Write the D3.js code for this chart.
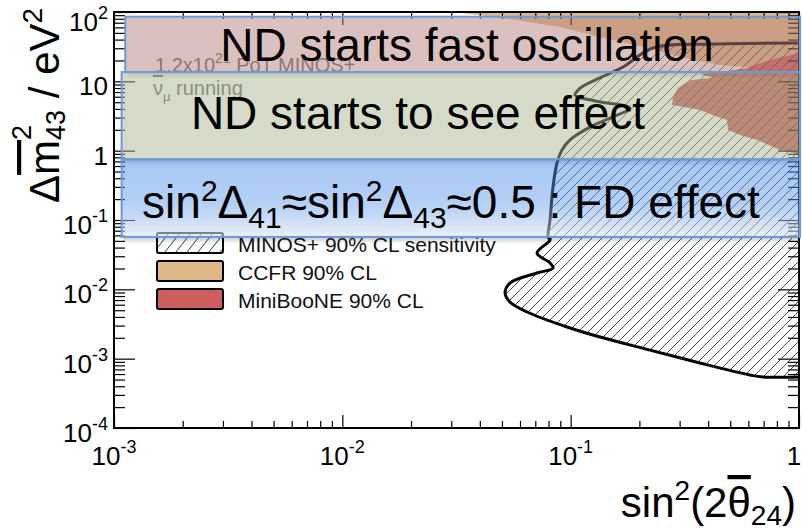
<!DOCTYPE html>
<html><head><meta charset="utf-8">
<script src="https://cdn.jsdelivr.net/npm/d3@7"></script>
<style>
body{margin:0;background:#fff}
svg{display:block;font-family:"Liberation Sans",Arial,Helvetica,sans-serif}
</style></head>
<body><svg id="c" width="802" height="532"></svg>
<script>
// ---------- data ----------
const xTickValues = [1e-3, 1e-2, 1e-1, 1];
const xTickBase = ["10", "10", "10", "1"];
const xTickExp = ["-3", "-2", "-1", ""];
const yTickValues = [1e-4, 1e-3, 1e-2, 1e-1, 1, 10, 100];
const yTickBase = ["10", "10", "10", "10", "1", "10", "10"];
const yTickExp = ["-4", "-3", "-2", "-1", "", "", "2"];

// MINOS+ 90% CL sensitivity contour (sin^2 2theta, dm^2)
const minosX = [1, 0.42, 0.229, 0.1695, 0.134, 0.110, 0.1045, 0.128, 0.182, 0.149, 0.1215, 0.0993, 0.0916, 0.0871, 0.0837, 0.0812, 0.0796, 0.0812, 0.0712, 0.0812, 0.0837, 0.0712, 0.0542, 0.0516, 0.0542, 0.0644, 0.0964, 0.1344, 0.2226, 0.368, 0.61, 0.696, 1];
const minosY = [35.7, 34.5, 30.3, 16.1, 11.2, 8.0, 6.35, 5.2, 4.12, 2.96, 2.19, 1.43, 1.02, 0.664, 0.30, 0.1, 0.057, 0.0515, 0.0334, 0.024, 0.0203, 0.0172, 0.0123, 0.00885, 0.00656, 0.00471, 0.00286, 0.00205, 0.00133, 0.000866, 0.000581, 0.000544, 0.000544];

// CCFR 90% CL excluded region
const ccfrX = [0.031, 0.058, 0.0897, 0.134, 0.2075, 0.30, 0.45, 0.675, 1, 1];
const ccfrY = [100, 76.7, 60.8, 43.6, 31.3, 22.4, 17.2, 15.6, 14.6, 100];

// MiniBooNE 90% CL region
const mbX = [1, 0.746, 0.58, 0.45, 0.368, 0.42, 0.333, 0.295, 0.28, 0.278, 0.333, 0.368, 0.4285, 0.484, 0.489, 0.552, 0.655, 0.826, 0.942, 1];
const mbY = [25.6, 20.3, 15.3, 13.6, 12.8, 11.3, 10.4, 8.0, 5.94, 4.56, 4.12, 3.86, 3.16, 2.77, 1.99, 1.68, 1.43, 1.02, 0.925, 0.865];

// annotation bands (dm^2 edges)
const bandTop = [85.5, 13.6, 0.75];
const bandBottom = [13.6, 0.75, 0.057];
const bandLeft = [0.00112, 0.00108, 0.00108];
const bandText = ["ND starts fast oscillation", "ND starts to see effect"];

const legendLabels = ["MINOS+ 90% CL sensitivity", "CCFR 90% CL", "MiniBooNE 90% CL"];

// ---------- drawing ----------
const svg = d3.select("#c");
const x = d3.scaleLog().domain([1e-3, 1]).range([114, 799]);
const y = d3.scaleLog().domain([1e-4, 1e2]).range([428, 12]);
const defs = svg.append("defs");

defs.append("clipPath").attr("id", "plotclip").append("rect")
  .attr("x", x(1e-3)).attr("y", y(1e2)).attr("width", x(1) - x(1e-3)).attr("height", y(1e-4) - y(1e2));

const hatch = defs.append("pattern").attr("id", "hatch").attr("patternUnits", "userSpaceOnUse")
  .attr("width", 10).attr("height", 10);
hatch.append("path").attr("d", "M-2,2 L2,-2 M0,10 L10,0 M8,12 L12,8")
  .attr("stroke", "#333").attr("stroke-width", 0.9);
const hatch2 = defs.append("pattern").attr("id", "hatch2").attr("patternUnits", "userSpaceOnUse")
  .attr("width", 11).attr("height", 14);
hatch2.append("path").attr("d", "M-3,4 L3,-4 M0,14 L11,0 M8,18 L14,10")
  .attr("stroke", "#222").attr("stroke-width", 0.9);

const blueGrad = defs.append("linearGradient").attr("id", "blueg").attr("x1", 0).attr("x2", 0).attr("y1", 0).attr("y2", 1);
blueGrad.append("stop").attr("offset", "0%").attr("stop-color", "rgb(80,146,234)").attr("stop-opacity", 0.5);
blueGrad.append("stop").attr("offset", "55%").attr("stop-color", "rgb(90,152,234)").attr("stop-opacity", 0.46);
blueGrad.append("stop").attr("offset", "100%").attr("stop-color", "rgb(225,230,242)").attr("stop-opacity", 0.6);

const shGrad = defs.append("linearGradient").attr("id", "shadow").attr("x1", 0).attr("x2", 0).attr("y1", 0).attr("y2", 1);
shGrad.append("stop").attr("offset", "0%").attr("stop-color", "#000").attr("stop-opacity", 0.22);
shGrad.append("stop").attr("offset", "100%").attr("stop-color", "#000").attr("stop-opacity", 0);

const plot = svg.append("g").attr("clip-path", "url(#plotclip)");
const area = d3.line().x(d => x(d[0])).y(d => y(d[1]));

plot.append("path").datum(d3.zip(ccfrX, ccfrY))
  .attr("d", d => area(d) + "Z").attr("fill", "#deb887");
plot.append("path").datum(d3.zip(mbX, mbY))
  .attr("d", d => area(d) + "Z").attr("fill", "#cd5c5c");

const minosPts = d3.zip(minosX, minosY);
const contour = d3.line().x(d => x(d[0])).y(d => y(d[1])).curve(d3.curveCatmullRom.alpha(0.5));
plot.append("path").datum(minosPts).attr("d", d => contour(d) + "Z").attr("fill", "url(#hatch)");
plot.append("path").datum(minosPts).attr("d", contour).attr("fill", "none")
  .attr("stroke", "#000").attr("stroke-width", 3).attr("stroke-linejoin", "round");

// gray annotation text
const pot = svg.append("text").attr("x", 155).attr("y", 72).attr("font-size", 20).attr("fill", "#666");
pot.append("tspan").text("1.2x10");
pot.append("tspan").attr("dy", -9).attr("font-size", 14).text("21");
pot.append("tspan").attr("dy", 9).text(" PoT MINOS+");
const run = svg.append("text").attr("x", 153).attr("y", 95).attr("font-size", 20).attr("fill", "#666");
run.append("tspan").attr("text-decoration", "overline").text("\u03BD");
run.append("tspan").attr("dy", 6).attr("font-size", 13).text("\u03BC");
run.append("tspan").attr("dy", -6).text(" running");

// legend
const legFill = ["url(#hatch2)", "#deb887", "#cd5c5c"];
const legY = [233, 261, 289];
legendLabels.forEach((t, i) => {
  svg.append("rect").attr("x", 157).attr("y", legY[i]).attr("width", 66).attr("height", 20).attr("rx", 2)
    .attr("fill", legFill[i]).attr("stroke", "#000").attr("stroke-width", 2);
  svg.append("text").attr("x", 238).attr("y", legY[i] + 19).attr("font-size", 21).attr("fill", "#111").text(t);
});

// frame and ticks
const decadesX = [1e-3, 1e-2, 1e-1];
const minorX = [];
decadesX.forEach(d => { for (let k = 2; k <= 9; k++) minorX.push(d * k); });
const decadesY = [1e-4, 1e-3, 1e-2, 1e-1, 1, 10];
const minorY = [];
decadesY.forEach(d => { for (let k = 2; k <= 9; k++) minorY.push(d * k); });

function drawAxis(axis, tr) {
  const g = svg.append("g").attr("transform", tr).call(axis);
  g.select(".domain").remove();
  g.selectAll("text").remove();
  g.selectAll("line").attr("stroke", "#000").attr("stroke-width", 1.2);
}
drawAxis(d3.axisBottom(x).tickValues(xTickValues).tickSize(-13), `translate(0,${y(1e-4)})`);
drawAxis(d3.axisBottom(x).tickValues(minorX).tickSize(-7), `translate(0,${y(1e-4)})`);
drawAxis(d3.axisTop(x).tickValues(xTickValues).tickSize(-13), `translate(0,${y(1e2)})`);
drawAxis(d3.axisTop(x).tickValues(minorX).tickSize(-7), `translate(0,${y(1e2)})`);
drawAxis(d3.axisLeft(y).tickValues(yTickValues).tickSize(-21), `translate(${x(1e-3)},0)`);
drawAxis(d3.axisLeft(y).tickValues(minorY).tickSize(-11), `translate(${x(1e-3)},0)`);
drawAxis(d3.axisRight(y).tickValues(yTickValues).tickSize(-21), `translate(${x(1)},0)`);
drawAxis(d3.axisRight(y).tickValues(minorY).tickSize(-11), `translate(${x(1)},0)`);

svg.append("rect").attr("x", x(1e-3)).attr("y", y(1e2)).attr("width", x(1) - x(1e-3)).attr("height", y(1e-4) - y(1e2))
  .attr("fill", "none").attr("stroke", "#000").attr("stroke-width", 2);

// bands
const bandFill = ["rgba(182,132,128,0.5)", "rgba(171,183,145,0.5)", "url(#blueg)"];
[0, 1, 2].forEach(i => {
  const x0 = x(bandLeft[i]), x1 = x(1) + 1, y0 = y(bandTop[i]), y1 = y(bandBottom[i]);
  svg.append("rect").attr("x", x0 + 2).attr("y", y1).attr("width", x1 - x0 - 2).attr("height", 7).attr("fill", "url(#shadow)");
  svg.append("rect").attr("x", x0).attr("y", y0).attr("width", x1 - x0).attr("height", y1 - y0)
    .attr("fill", bandFill[i]).attr("stroke", "#6a9ad8").attr("stroke-width", 2);
});
svg.append("text").attr("x", 467).attr("y", 61).attr("text-anchor", "middle").attr("font-size", 46).attr("fill", "#000").text(bandText[0]);
svg.append("text").attr("x", 418).attr("y", 129).attr("text-anchor", "middle").attr("font-size", 46).attr("fill", "#000").text(bandText[1]);
const fd = svg.append("text").attr("x", 451).attr("y", 218).attr("text-anchor", "middle").attr("font-size", 46).attr("fill", "#000");
fd.append("tspan").text("sin");
fd.append("tspan").attr("dy", -17).attr("font-size", 30).text("2");
fd.append("tspan").attr("dy", 17).text("\u0394");
fd.append("tspan").attr("dy", 10).attr("font-size", 30).text("41");
fd.append("tspan").attr("dy", -10).text("\u2248sin");
fd.append("tspan").attr("dy", -17).attr("font-size", 30).text("2");
fd.append("tspan").attr("dy", 17).text("\u0394");
fd.append("tspan").attr("dy", 10).attr("font-size", 30).text("43");
fd.append("tspan").attr("dy", -10).text("\u22480.5 : FD effect");

// tick labels
xTickValues.forEach((v, i) => {
  const t = svg.append("text").attr("x", Math.min(x(v), 794)).attr("y", 465).attr("text-anchor", "middle").attr("font-size", 26).attr("fill", "#000");
  t.append("tspan").text(xTickBase[i]);
  if (xTickExp[i]) t.append("tspan").attr("dy", -12).attr("font-size", 18).text(xTickExp[i]);
});
yTickValues.forEach((v, i) => {
  const t = svg.append("text").attr("x", 108).attr("y", Math.max(y(v) + 14, 31)).attr("text-anchor", "end").attr("font-size", 26).attr("fill", "#000");
  t.append("tspan").text(yTickBase[i]);
  if (yTickExp[i]) t.append("tspan").attr("dy", -12).attr("font-size", 18).text(yTickExp[i]);
});

// axis titles
const xt = svg.append("text").attr("x", 796).attr("y", 517).attr("text-anchor", "end").attr("font-size", 42).attr("fill", "#000");
xt.append("tspan").text("sin");
xt.append("tspan").attr("dy", -17).attr("font-size", 28).text("2");
xt.append("tspan").attr("dy", 17).text("(2");
xt.append("tspan").attr("text-decoration", "overline").text("\u03B8");
xt.append("tspan").attr("dy", 8).attr("font-size", 28).text("24");
xt.append("tspan").attr("dy", -8).text(")");

const yt = svg.append("text").attr("transform", "translate(59,203) rotate(-90)").attr("font-size", 42).attr("fill", "#000");
yt.append("tspan").text("\u0394");
yt.append("tspan").attr("text-decoration", "overline").text("m");
yt.append("tspan").attr("dy", -28).attr("font-size", 27).text("2");
yt.append("tspan").attr("dx", -15).attr("dy", 34).attr("font-size", 27).text("43");
yt.append("tspan").attr("dy", -6).text(" / eV");
yt.append("tspan").attr("dy", -17).attr("font-size", 28).text("2");
</script></body></html>
